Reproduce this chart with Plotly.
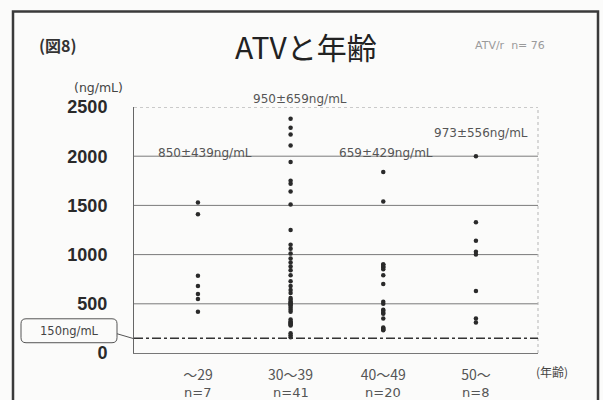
import plotly.graph_objects as go

# ---------------- data ----------------
categories = ["〜29", "30〜39", "40〜49", "50〜"]
atv_under29 = [1530, 1410, 785, 680, 600, 550, 420]
atv_30s = [2380, 2290, 2220, 2110, 1940, 1750, 1720, 1640, 1510,
           1250, 1100, 1060, 1010, 960, 920, 880, 840, 790, 730, 680, 640, 610,
           560, 540, 520, 510, 500, 490, 480, 460, 440, 420,
           340, 320, 310, 300, 290, 280,
           200, 180, 160]
atv_40s = [1840, 1540, 900, 900, 880, 870, 850, 790, 700,
           520, 500, 440, 430, 410, 400, 350, 260, 250, 240, 230]
atv_50plus = [2000, 1330, 1140, 1030, 1000, 630, 350, 310]
groups = [atv_under29, atv_30s, atv_40s, atv_50plus]
mean_labels = ["850±439ng/mL", "950±659ng/mL", "659±429ng/mL", "973±556ng/mL"]
threshold = 150
y_ticks = [0, 500, 1000, 1500, 2000, 2500]

# ---------------- layout geometry (pixels) ----------------
W_FIG, H_FIG = 603, 400
L, R, T, B = 134, 538, 106.7, 353.3
PW, PH = R - L, B - T


def px(x):
    return (x - L) / PW


def py(y):
    return (B - y) / PH


CJK = "Noto Sans CJK JP"
SANS = "DejaVu Sans"
BOLD = "Liberation Sans"

fig = go.Figure()
for i, vals in enumerate(groups):
    fig.add_trace(go.Scatter(
        x=[i] * len(vals), y=vals, mode="markers",
        marker=dict(size=4.5, color="#2a2a2a"),
        showlegend=False, hoverinfo="y"))

shapes = []
for v in y_ticks[1:-1]:
    shapes.append(dict(type="line", xref="paper", yref="y", x0=0, x1=1, y0=v, y1=v,
                       line=dict(color="#7a7a7a", width=1), layer="below"))
shapes.append(dict(type="line", xref="paper", yref="y", x0=0, x1=1, y0=2500, y1=2500,
                   line=dict(color="#9a9a9a", width=1, dash="dot"), layer="below"))
shapes.append(dict(type="line", xref="paper", yref="paper", x0=1, x1=1, y0=0, y1=1,
                   line=dict(color="#b5b5b5", width=1, dash="dot"), layer="below"))
shapes.append(dict(type="line", xref="paper", yref="y", x0=0, x1=1, y0=threshold, y1=threshold,
                   line=dict(color="#333333", width=1.5, dash="dashdot")))
bx0, bx1, by0, by1, r = 21, 117, 319, 343, 5
path = (f"M {px(bx0 + r)},{py(by0)} L {px(bx1 - r)},{py(by0)} "
        f"Q {px(bx1)},{py(by0)} {px(bx1)},{py(by0 + r)} "
        f"L {px(bx1)},{py(by1 - r)} Q {px(bx1)},{py(by1)} {px(bx1 - r)},{py(by1)} "
        f"L {px(bx0 + r)},{py(by1)} Q {px(bx0)},{py(by1)} {px(bx0)},{py(by1 - r)} "
        f"L {px(bx0)},{py(by0 + r)} Q {px(bx0)},{py(by0)} {px(bx0 + r)},{py(by0)} Z")
shapes.append(dict(type="path", xref="paper", yref="paper", path=path,
                   line=dict(color="#555555", width=1), fillcolor="rgba(0,0,0,0)"))
shapes.append(dict(type="line", xref="paper", yref="paper",
                   x0=px(bx1), y0=py(334), x1=px(L), y1=py(339),
                   line=dict(color="#555555", width=1)))
shapes.append(dict(type="rect", xref="paper", yref="paper",
                   x0=px(13), x1=px(598), y0=py(420), y1=py(11),
                   line=dict(color="#3a3a3a", width=2.5), fillcolor="rgba(0,0,0,0)"))

annotations = []


def add_text(text, x, y, size, color="#333333", family=CJK, xanchor="center", weight="normal"):
    annotations.append(dict(text=text, xref="paper", yref="paper", x=px(x), y=py(y),
                            xanchor=xanchor, yanchor="middle", showarrow=False,
                            font=dict(size=size, color=color, family=family, weight=weight)))


add_text("(図8)", 58, 45, 16, "#333333", CJK, weight="bold")
add_text("ATVと年齢", 306, 46, 30, "#222222", CJK)
add_text("ATV/r  n= 76", 510, 45, 11, "#9a9a9a", SANS)
add_text("(ng/mL)", 98, 87, 12.5, "#444444", SANS)
add_text("150ng/mL", 69, 331, 11.5, "#444444", SANS)
mean_pos = [(205, 153), (300, 99), (386, 153), (481, 133)]
for lbl, (mx, my) in zip(mean_labels, mean_pos):
    add_text(lbl, mx, my, 12, "#555555", SANS)
add_text("(年齢)", 552, 372, 12, "#444444", CJK)
for i, vals in enumerate(groups):
    annotations.append(dict(text=f"n={len(vals)}", xref="x", yref="paper", x=i, y=py(393),
                            xanchor="center", yanchor="middle", showarrow=False,
                            font=dict(size=13, color="#555555", family=SANS)))

fig.update_layout(
    width=W_FIG, height=H_FIG,
    margin=dict(l=L, r=W_FIG - R, t=T, b=H_FIG - B, pad=0),
    paper_bgcolor="#fbfbfa", plot_bgcolor="#fbfbfa",
    shapes=shapes, annotations=annotations,
    xaxis=dict(range=[-0.69, 3.67], tickvals=list(range(len(categories))), ticktext=categories,
               showgrid=False, zeroline=False, showline=True, linecolor="#777777", linewidth=1,
               ticks="", ticklabelstandoff=9,
               tickfont=dict(size=14, color="#555555", family=CJK)),
    yaxis=dict(range=[0, 2500], tickvals=y_ticks, showgrid=False, zeroline=False,
               showline=True, linecolor="#666666", linewidth=1, ticks="",
               ticklabelstandoff=22,
               tickfont=dict(size=18, color="#2a2a2a", family=BOLD, weight="bold")),
)

fig.write_html("out.html", config={"displayModeBar": False},
               post_script="document.body.style.margin='0';")
